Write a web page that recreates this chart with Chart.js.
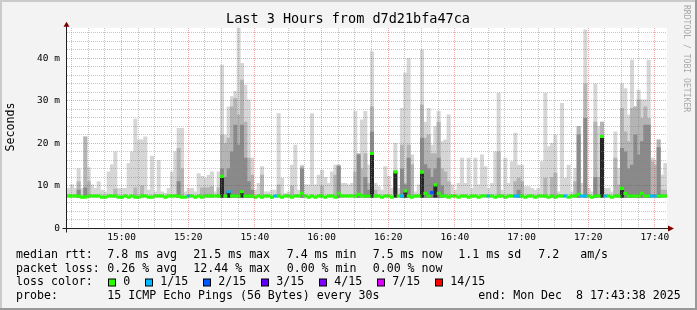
<!DOCTYPE html>
<html>
<head>
<meta charset="utf-8">
<script src="https://cdn.jsdelivr.net/npm/chart.js@4.4.1/dist/chart.umd.min.js"></script>
<style>
  html, body { margin: 0; padding: 0; background: #f3f3f3; }
</style>
</head>
<body>
<canvas id="rrd" width="697" height="310"></canvas>
<script>
// one column per minute, 14:43:38 .. 17:43:38
const START = 14 * 60 + 43 + 38 / 60;
const STEP = 1;
const SMOKE_FLOOR = 7.2;

// upper edge of the outer (lightest) smoke, ms
const smokeMax = [
  9.4,10.2,9.4,14.0,9.4,21.5,14.3,10.2,9.4,11.0, 9.0,8.6,13.3,15.0,18.0,9.4,9.4,9.4,15.3,18.0,
  25.7,20.8,20.8,21.5,9.0,17.0,8.6,16.0,8.6,8.2, 9.4,13.3,18.0,23.5,23.5,8.6,9.4,9.4,8.6,12.9,
  12.2,11.8,12.5,13.3,8.6,
  13.3,38.4,22.0,28.6,31.0,32.2,47.4,38.8,33.7,30.2, 16.5,9.0,10.6,14.5,8.6,8.6,9.0,9.0,27.0,11.8,
  8.2,8.6,14.9,19.6,9.0,14.9,10.2,10.2,27.0,10.2, 12.5,13.7,12.0,10.6,13.3,14.9,14.9,10.6,10.6,10.2,
  10.6,27.5,13.3,25.5,27.5,
  14.9,41.6,10.6,9.8,9.0,14.5,12.2,9.4,20.0,9.4, 28.2,36.5,40.0,17.3,8.6,10.2,42.0,25.0,28.2,19.6,
  24.0,27.5,20.4,20.8,26.7,10.2,9.0,10.6,16.5,10.6, 16.5,9.4,16.5,10.2,17.3,14.5,9.4,10.6,18.0,31.8,
  9.0,16.5,10.6,15.7,22.4,
  14.9,14.9,9.8,9.8,9.4,9.0,9.4,15.7,31.8,19.2, 20.0,22.0,8.6,29.4,11.8,14.9,8.6,14.1,24.0,10.6,
  46.7,9.4,8.6,34.0,24.0,25.0,9.4,9.4,8.6,22.7, 14.1,34.0,32.9,26.7,39.6,28.6,32.5,30.2,30.2,39.6,
  16.5,16.1,20.8,12.5,15.3
];

// middle smoke (null = none visible)
const smokeMid = [
  null,null,null,11,null,21.5,11,null,null,null, null,null,null,null,9.2,null,null,null,null,null,
  9.5,null,10,null,null,null,null,null,null,null, null,null,null,18.8,14,null,null,null,null,null,
  9.5,9.5,9.6,9.8,null,
  9.5,22,20,21.2,28.6,30.6,26.7,34.9,25,16.5, 12.5,null,null,12.5,null,null,null,null,10.2,null,
  null,null,10,null,null,14.5,null,null,null,null, null,10,null,null,null,12.5,14.9,null,null,null,
  null,13.3,17.6,14,17.6,
  10.6,28.6,9,null,null,null,null,null,13.3,null, 19.6,10.6,19.6,15,null,null,29,21.2,22,17.6,
  17.6,25,14,13.3,11,null,null,null,null,null, null,null,null,null,null,null,null,null,null,18,
  null,null,null,null,11,
  11.8,11,null,null,null,null,null,null,11.8,null, 12,13,null,null,null,null,null,11,24,null,
  34,null,null,25,12,25,null,null,null,16.5, 10.2,28.2,22.7,20.4,28.2,28.6,30.2,25.9,28.6,25.9,
  15.7,14.9,20.8,9,9
];

// inner (darker) smoke
const smokeInner = [
  null,null,null,9,null,9.5,null,null,null,null, null,null,null,null,null,null,null,null,null,null,
  null,null,null,null,null,null,null,null,null,null, null,null,null,11,null,null,null,null,null,null,
  null,null,null,null,null,
  null,14,12,14,18,24.3,19.6,24.3,16.5,11, 9,null,null,null,null,null,null,null,null,null,
  null,null,null,null,null,14,null,null,null,null, null,null,null,null,null,null,14.5,null,null,null,
  null,null,17.3,null,12,
  9,22.7,null,null,null,null,null,null,null,null, 14,10.2,16.5,null,null,null,21.2,15,14,12,
  14,16.5,10,null,null,null,null,null,null,null, null,null,null,null,null,null,null,null,null,null,
  null,null,null,null,null,
  9,null,null,null,null,null,null,null,null,null, null,null,null,null,null,null,null,null,22,null,
  25.9,null,null,12,null,null,null,null,null,null, null,18.8,18,14,14.9,22,17.3,20.4,24.3,24.3,
  null,null,19,null,null
];

// median rtt, ms
const medianRtt = [
  7.6,7.6,7.6,7.6,7.35,7.35,7.6,7.6,7.6,7.6, 7.35,7.35,7.6,7.6,7.6,7.35,7.35,7.6,7.35,7.6,
  7.35,7.35,7.6,7.6,7.35,7.35,7.6,7.6,7.6,7.35, 7.6,7.6,7.6,7.6,7.35,7.35,7.6,7.6,7.35,7.6,
  7.35,7.6,7.6,7.6,7.6,
  7.6,12.2,7.6,8.6,7.6,7.6,7.6,8.6,7.6,7.6, 7.6,7.35,7.6,7.35,7.6,7.6,7.35,7.6,7.6,7.35,
  7.6,7.6,7.35,7.6,7.6,8.2,7.6,7.35,7.6,7.35, 7.6,7.6,7.35,7.6,7.6,7.35,8.2,7.6,7.6,7.6,
  7.6,7.6,8.0,7.6,7.6,
  7.6,17.6,7.6,7.6,7.35,7.6,7.6,7.35,13.3,7.6, 7.6,8.8,7.6,7.35,7.6,7.6,13.2,8.2,7.6,8.4,
  10.2,8.2,7.6,7.6,7.35,7.6,7.6,7.35,7.6,7.6, 7.35,7.6,7.6,7.35,7.6,7.6,7.6,7.6,7.35,7.6,
  7.6,7.35,7.6,7.6,7.6,
  7.6,7.6,7.35,7.6,7.6,7.35,7.6,7.6,7.6,7.35, 7.6,7.35,7.6,7.6,7.6,7.35,7.6,7.6,8.0,7.6,
  7.6,7.6,7.35,7.6,7.6,21.6,7.6,7.6,7.35,7.6, 7.6,9.4,8.2,7.6,7.6,7.6,7.6,8.2,7.6,7.6,
  7.6,7.6,7.6,7.6,7.6
];

// lost pings out of 15
const lossCount = [
  0,0,0,0,0,0,0,0,0,0, 0,0,0,0,0,0,0,0,0,0, 0,0,0,0,0,0,0,0,0,0, 0,0,0,0,0,0,1,0,0,0, 0,0,0,0,0,
  0,0,0,1,0,0,0,0,0,0, 0,0,0,0,0,0,0,1,0,0, 0,0,0,0,0,0,0,0,0,0, 0,0,0,0,0,0,0,0,0,0, 0,0,0,0,0,
  0,0,0,0,0,0,0,0,0,0, 1,0,0,0,0,0,0,0,0,2, 0,0,0,0,0,0,0,0,0,0, 0,0,0,0,0,0,1,0,0,0, 0,0,0,0,1,
  1,0,0,0,0,0,0,0,0,0, 0,0,0,0,1,0,0,0,0,1, 1,0,0,0,0,0,1,0,0,0, 0,0,0,0,0,0,0,0,0,0, 1,1,0,0,0
];

const lossSteps  = [0, 1, 2, 3, 4, 7, 14];
const lossColors = ['#26ff00', '#00b8ff', '#0059ff', '#5e00ff', '#7e00ff', '#dd00ff', '#ff0000'];
const lossLabels = ['0', '1/15', '2/15', '3/15', '4/15', '7/15', '14/15'];

const xMajorMinutes = [900, 920, 940, 960, 980, 1000, 1020, 1040, 1060];
const xMajorLabels  = ['15:00', '15:20', '15:40', '16:00', '16:20', '16:40', '17:00', '17:20', '17:40'];
const yMajorValues  = [0, 10, 20, 30, 40];
const yMajorLabels  = ['0', '10 m', '20 m', '30 m', '40 m'];

const MINOR = 'rgba(128,128,128,0.45)';
const MAJOR = 'rgba(220,40,40,0.42)';
const MONO = '"DejaVu Sans Mono", monospace';

const xAt = i => START + (i + 0.5) * STEP;

function floating(tops, bottom) {
  const out = [];
  tops.forEach((v, i) => { if (v !== null) out.push({ x: xAt(i), y: [bottom, v] }); });
  return out;
}

function lossColor(n) {
  let c = lossColors[0];
  lossSteps.forEach((s, k) => { if (n >= s) c = lossColors[k]; });
  return c;
}

const coreTops = medianRtt.map(m => (m > 8.5 ? m : null));
const medianBand = medianRtt.map((m, i) => ({ x: xAt(i), y: [m - 0.3, m + 0.3] }));

const barBase = { grouped: false, barPercentage: 1, categoryPercentage: 1, borderWidth: 0 };

const rrdFrame = {
  id: 'rrdFrame',
  beforeDraw(chart) {
    const { ctx, chartArea: a } = chart;
    ctx.save();
    ctx.fillStyle = '#f3f3f3';
    ctx.fillRect(0, 0, 697, 310);
    ctx.fillStyle = '#ffffff';
    ctx.fillRect(a.left, a.top, a.right - a.left, a.bottom - a.top);
    ctx.fillStyle = '#cbcbcb';
    ctx.fillRect(0, 0, 697, 2);
    ctx.fillRect(0, 0, 2, 310);
    ctx.fillStyle = '#999999';
    ctx.fillRect(0, 308, 697, 2);
    ctx.fillRect(695, 0, 2, 310);
    ctx.restore();
  },
  // rrdtool paints its dotted grid over the data, then the axes
  afterDatasetsDraw(chart) {
    const { ctx, chartArea: a, scales: { x, y } } = chart;
    const top = Math.ceil(a.top), bottom = Math.floor(a.bottom);
    const left = Math.ceil(a.left), right = Math.floor(a.right);
    ctx.save();
    x.ticks.forEach(t => {
      const px = Math.floor(x.getPixelForValue(t.value));
      ctx.fillStyle = xMajorMinutes.includes(t.value) ? MAJOR : MINOR;
      for (let py = top; py < bottom; py += 2) ctx.fillRect(px, py, 1, 1);
    });
    y.ticks.forEach(t => {
      if (t.value === 0) return;
      const py = Math.floor(y.getPixelForValue(t.value));
      ctx.fillStyle = yMajorValues.includes(t.value) ? MAJOR : MINOR;
      for (let px = left; px < right; px += 2) ctx.fillRect(px, py, 1, 1);
    });

    const yb = Math.round(a.bottom) + 0.5;
    const xl = Math.round(a.left) - 0.5;
    ctx.strokeStyle = '#202020';
    ctx.lineWidth = 1;
    ctx.beginPath();
    ctx.moveTo(xl - 4, yb); ctx.lineTo(a.right + 3, yb);
    ctx.moveTo(xl, yb + 4); ctx.lineTo(xl, a.top - 2);
    ctx.stroke();
    ctx.fillStyle = '#800000';
    ctx.beginPath();
    ctx.moveTo(xl - 3, a.top - 1); ctx.lineTo(xl + 3, a.top - 1); ctx.lineTo(xl, a.top - 6);
    ctx.closePath(); ctx.fill();
    ctx.beginPath();
    ctx.moveTo(a.right + 1, yb - 3); ctx.lineTo(a.right + 1, yb + 3); ctx.lineTo(a.right + 7, yb);
    ctx.closePath(); ctx.fill();
    ctx.restore();
  },
  afterDraw(chart) {
    const ctx = chart.ctx;
    ctx.save();
    ctx.fillStyle = '#000';
    ctx.textBaseline = 'middle';
    ctx.font = '13.5px ' + MONO;
    ctx.textAlign = 'center';
    ctx.fillText('Last 3 Hours from d7d21bfa47ca', 348, 19);

    ctx.font = '11.6px ' + MONO;
    ctx.save();
    ctx.translate(11, 127);
    ctx.rotate(-Math.PI / 2);
    ctx.fillText('Seconds', 0, 0);
    ctx.restore();

    ctx.save();
    ctx.fillStyle = '#a8a8a8';
    ctx.font = '8.1px ' + MONO;
    ctx.textAlign = 'left';
    ctx.translate(686, 5);
    ctx.rotate(Math.PI / 2);
    ctx.fillText('RRDTOOL / TOBI OETIKER', 0, 0);
    ctx.restore();

    ctx.textAlign = 'left';
    const rows = [
      [255, [[16, 'median rtt:'], [107.3, '7.8 ms avg'], [193.3, '21.5 ms max'], [286.7, '7.4 ms min'],
             [372.7, '7.5 ms now'], [458.3, '1.1 ms sd'], [538.3, '7.2   am/s']]],
      [268.5, [[16, 'packet loss:'], [107.3, '0.26 % avg'], [193.3, '12.44 % max'], [286.7, '0.00 % min'],
               [372.7, '0.00 % now']]],
      [296, [[16, 'probe:'], [107.3, '15 ICMP Echo Pings (56 Bytes) every 30s'], [478.3, 'end: Mon Dec  8 17:43:38 2025']]]
    ];
    rows.forEach(([y, items]) => items.forEach(([x, t]) => ctx.fillText(t, x, y)));

    ctx.fillText('loss color:', 16, 282.3);
    const boxX = [108.5, 145.5, 203.5, 261.5, 319.5, 377.5, 435.5];
    lossLabels.forEach((lab, k) => {
      ctx.fillStyle = lossColors[k];
      ctx.fillRect(boxX[k], 279, 7, 7);
      ctx.strokeStyle = '#000';
      ctx.lineWidth = 1;
      ctx.strokeRect(boxX[k], 279, 7, 7);
      ctx.fillStyle = '#000';
      ctx.fillText(lab, boxX[k] + 14.8, 282.3);
    });
    ctx.restore();
  }
};

new Chart(document.getElementById('rrd'), {
  type: 'bar',
  data: {
    datasets: [
      Object.assign({ data: floating(smokeMax, SMOKE_FLOOR), backgroundColor: '#d6d6d6', order: 6 }, barBase),
      Object.assign({ data: floating(smokeMid, SMOKE_FLOOR), backgroundColor: '#b4b4b4', order: 5 }, barBase),
      Object.assign({ data: floating(smokeInner, SMOKE_FLOOR), backgroundColor: '#8a8a8a', order: 4 }, barBase),
      Object.assign({ data: floating(coreTops, 7.3), backgroundColor: '#262626', order: 3 }, barBase),
      Object.assign({
        data: medianBand,
        backgroundColor: ctx => lossColor(lossCount[ctx.dataIndex] || 0),
        order: 1
      }, barBase)
    ]
  },
  options: {
    responsive: false,
    animation: false,
    devicePixelRatio: 1,
    layout: { padding: { top: 27.7, right: 30, bottom: 0, left: 0 } },
    plugins: { legend: { display: false }, tooltip: { enabled: false }, title: { display: false } },
    scales: {
      x: {
        type: 'linear',
        min: START,
        max: START + 180,
        offset: false,
        afterBuildTicks(s) {
          const t = [];
          for (let m = 885; m <= 1060; m += 5) t.push({ value: m });
          s.ticks = t;
        },
        afterFit(s) { s.height = 81.7; },
        ticks: {
          autoSkip: false, maxRotation: 0, padding: 4, color: '#000',
          font: { family: MONO, size: 9.5 },
          callback: v => { const k = xMajorMinutes.indexOf(v); return k >= 0 ? xMajorLabels[k] : ''; }
        },
        grid: { display: false, drawTicks: false },
        border: { display: false }
      },
      y: {
        min: 0,
        max: 47.2,
        afterBuildTicks(s) {
          const t = [];
          for (let v = 0; v <= 46; v += 2) t.push({ value: v });
          s.ticks = t;
        },
        afterFit(s) { s.width = 67; },
        ticks: {
          autoSkip: false, padding: 7, color: '#000',
          font: { family: MONO, size: 9.5 },
          callback: v => { const k = yMajorValues.indexOf(v); return k >= 0 ? yMajorLabels[k] : ''; }
        },
        grid: { display: false, drawTicks: false },
        border: { display: false }
      }
    }
  },
  plugins: [rrdFrame]
});
</script>
</body>
</html>
